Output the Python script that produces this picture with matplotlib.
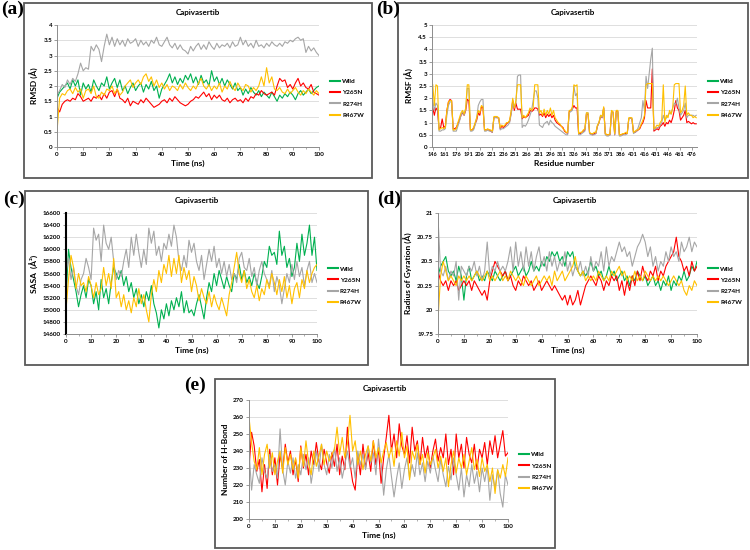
import matplotlib.pyplot as plt
import numpy as np
from matplotlib.lines import Line2D
from matplotlib.patches import Rectangle

plt.rcParams["font.family"] = ["Lato", "DejaVu Sans"]
plt.rcParams["font.weight"] = "bold"

W, H = 750, 550

series_names = ["Wild", "Y265N", "R274H", "R467W"]
series_colors = ["#00B050", "#FF0000", "#A6A6A6", "#FFC000"]

time_ns = np.arange(0, 101)
residues = np.arange(146, 483, 2)
residue_ticks = np.arange(146, 477, 15)

# (a) RMSD
rmsd_wild = [
    1.6, 1.8, 1.9, 2.0, 2.1, 1.9, 2.2, 2.0, 2.2, 1.7,
    2.1, 1.9, 2.05, 1.8, 2.2, 2.0, 1.85, 2.1, 2.0, 2.3,
    1.9, 2.1, 2.25, 1.95, 2.2, 1.85, 2.0, 1.75, 1.95, 2.1,
    1.85, 2.0, 2.1, 1.8, 2.05, 1.9, 2.15, 1.85, 2.0, 1.6,
    1.9, 2.05, 2.2, 2.4, 2.1, 2.3, 2.05, 2.25, 2.1, 2.35,
    2.2, 2.4, 2.1, 2.3, 2.05, 2.35, 2.1, 2.2, 2.0, 2.5,
    2.15, 2.3, 2.05, 2.25, 2.0, 2.2, 2.05, 1.9, 2.1, 1.85,
    1.95, 1.7, 1.9, 1.75, 1.95, 1.8, 1.7, 1.85, 1.65, 1.8,
    1.7, 1.6, 1.8, 1.65, 1.5, 1.7, 1.6, 1.75, 1.65, 1.8,
    1.7, 1.55, 1.75, 1.85, 1.7, 1.8, 1.9, 1.75, 1.85, 1.95,
    2.0,
]
rmsd_y265n = [
    1.3, 1.15, 1.4, 1.5, 1.55, 1.5, 1.6, 1.55, 1.75, 1.65,
    1.5, 1.55, 1.6, 1.5, 1.65, 1.6, 1.7, 1.55, 1.75, 1.6,
    1.8, 1.85, 1.65, 1.9, 1.6, 1.55, 1.45, 1.6, 1.35, 1.5,
    1.45, 1.4, 1.55, 1.45, 1.6, 1.5, 1.4, 1.3, 1.35, 1.4,
    1.5, 1.55, 1.45, 1.6, 1.5, 1.65, 1.55, 1.45, 1.4, 1.35,
    1.4, 1.5, 1.55, 1.65, 1.6, 1.7, 1.8, 1.65, 1.75, 1.55,
    1.7, 1.6, 1.7, 1.55, 1.5, 1.6, 1.45, 1.55, 1.6, 1.5,
    1.55, 1.45, 1.6, 1.5, 1.65, 1.6, 1.75, 1.7, 1.85, 1.75,
    1.7, 1.75, 1.8, 1.7, 2.0, 2.25, 2.15, 2.2, 1.95, 2.05,
    1.9, 2.1, 2.25, 2.0, 2.1, 1.95, 1.9, 2.05, 1.8, 1.75,
    1.7,
]
rmsd_r274h = [
    1.7, 1.85, 2.05, 1.95, 2.2, 2.05, 2.25, 2.15, 2.4, 2.75,
    2.5, 2.6, 2.55, 3.3, 3.15, 3.35, 3.2, 2.8, 3.3, 3.7,
    3.35, 3.6, 3.3, 3.55, 3.35, 3.5, 3.3, 3.55, 3.4, 3.45,
    3.55, 3.3, 3.5, 3.35, 3.45, 3.3, 3.5, 3.4, 3.6, 3.35,
    3.3, 3.45, 3.6, 3.35, 3.25, 3.4, 3.2, 3.35, 3.2, 3.15,
    3.05, 3.3, 3.15, 3.3, 3.4, 3.2, 3.35, 3.2, 3.45, 3.3,
    3.2, 3.4, 3.25, 3.35, 3.3, 3.4, 3.25, 3.45, 3.3, 3.35,
    3.6, 3.35, 3.5, 3.3, 3.4, 3.25, 3.5, 3.3, 3.35, 3.25,
    3.4, 3.3, 3.45, 3.35, 3.3, 3.4, 3.3, 3.45, 3.4, 3.5,
    3.45, 3.55, 3.6, 3.5, 3.55, 3.1, 3.3, 3.15, 3.25, 3.1,
    3.0,
]
rmsd_r467w = [
    0.5, 1.6, 1.75, 1.7, 1.85, 1.9, 1.75, 1.95, 1.8, 1.9,
    1.6, 1.85, 1.9, 1.75, 2.0, 1.65, 1.6, 1.8, 1.7, 1.9,
    1.85, 2.0, 1.75, 1.9, 1.7, 1.8, 2.0, 2.1, 2.2, 1.95,
    2.1, 2.2, 2.05, 2.3, 2.4, 2.15, 2.3, 2.0, 2.2, 1.95,
    2.1, 1.9, 2.05, 1.85, 2.0, 1.95, 1.85, 2.05, 1.9, 2.1,
    1.95, 1.85, 2.0, 1.9, 2.1, 2.25, 2.0, 1.9, 2.05, 1.85,
    2.0, 1.9, 2.1, 1.8, 2.0, 1.9, 2.15, 1.95, 1.85, 2.1,
    1.95, 1.85, 2.05, 2.0, 1.8, 1.95, 1.85, 2.0, 2.3, 2.0,
    2.6, 2.1, 2.3, 1.9, 1.85, 1.95, 1.8, 1.75, 1.9, 1.75,
    1.85, 1.95, 1.8, 1.7, 1.85, 1.75, 1.9, 1.8, 1.7, 1.85,
    1.75,
]

# (b) RMSF, every second residue from 146 to 482 (Wild hidden under the others)
rmsf_y265n = [
    1.6, 1.3, 1.6, 1.5, 0.75, 0.8, 1.15, 0.8, 0.85, 1.5,
    1.85, 1.95, 1.9, 0.75, 0.75, 0.8, 0.95, 1.1, 1.3, 1.4,
    1.3, 1.5, 1.95, 1.9, 0.7, 0.7, 0.75, 0.95, 1.1, 1.4,
    1.3, 1.65, 1.6, 0.7, 0.7, 0.7, 0.7, 0.65, 0.6, 1.2,
    1.25, 1.2, 1.2, 0.75, 0.85, 0.8, 0.85, 0.95, 1.0, 1.05,
    1.4, 1.9, 1.5, 1.8, 1.55, 1.55, 1.55, 1.15, 1.25, 1.2,
    1.25, 1.3, 1.5, 1.45, 1.5, 1.6, 1.6, 1.55, 1.3, 1.35,
    1.25, 1.4, 1.2, 1.35, 1.25, 1.35, 1.2, 1.3, 1.1, 1.0,
    0.95, 0.9, 0.85, 0.8, 0.65, 0.6, 0.55, 1.45, 1.5, 1.55,
    1.7, 1.6, 1.6, 0.55, 0.55, 0.6, 0.65, 0.7, 1.35, 1.35,
    0.55, 0.55, 0.5, 0.55, 0.55, 0.85, 1.0, 1.25, 1.2, 1.6,
    0.55, 0.5, 0.5, 0.5, 1.45, 1.4, 0.5, 1.45, 1.45, 0.5,
    0.5, 0.5, 0.55, 0.55, 0.55, 1.15, 1.2, 1.15, 0.6, 0.6,
    0.65, 0.7, 0.75, 0.9, 1.0, 1.2, 1.9, 1.6, 1.6, 1.6,
    3.2, 0.65, 0.7, 0.75, 0.7, 0.85, 0.9, 1.0, 0.85, 1.0,
    0.95, 1.1, 1.0, 1.2, 1.5, 1.9, 1.6, 1.5, 1.1, 1.2,
    1.3, 1.5, 1.0, 1.05, 1.0, 0.95, 1.0, 0.95, 0.95,
]
rmsf_r274h = [
    1.9, 1.5, 1.8, 1.7, 0.65, 0.65, 0.7, 0.7, 0.75, 1.3,
    1.7, 1.85, 1.85, 0.65, 0.65, 0.65, 0.85, 1.05, 1.3, 1.45,
    1.3, 1.55, 2.4, 2.4, 0.65, 0.65, 0.7, 0.9, 1.2, 1.7,
    1.85, 1.95, 1.95, 0.65, 0.65, 0.7, 0.65, 0.65, 0.6, 1.2,
    1.2, 1.2, 1.2, 0.7, 0.75, 0.75, 0.8, 0.85, 0.9, 1.0,
    1.35, 1.8, 1.6, 1.8, 2.9, 2.95, 2.95, 0.8, 0.9, 0.85,
    0.95, 1.1, 1.3, 1.5, 1.9, 2.3, 2.3, 2.0, 0.9, 0.85,
    0.8, 0.95, 1.0, 1.05, 0.9, 1.1, 1.0, 0.95, 0.85, 0.8,
    0.75, 0.7, 0.65, 0.6, 0.55, 0.5, 0.5, 1.4, 1.45, 1.5,
    2.5, 2.1, 2.2, 0.5, 0.5, 0.55, 0.6, 0.65, 1.4, 1.4,
    0.55, 0.5, 0.5, 0.5, 0.55, 0.85, 1.0, 1.3, 1.2, 1.6,
    0.5, 0.45, 0.45, 0.5, 1.45, 1.4, 0.5, 1.4, 1.45, 0.45,
    0.45, 0.5, 0.5, 0.5, 0.55, 1.15, 1.2, 1.15, 0.55, 0.6,
    0.65, 0.8, 1.0, 1.2, 1.9, 1.5, 2.9, 2.4, 3.0, 3.6,
    4.05, 0.7, 0.75, 0.8, 0.8, 0.9, 1.0, 1.3, 1.1, 1.2,
    1.3, 1.4, 1.35, 1.6, 1.8, 1.75, 2.0, 1.6, 1.3, 1.4,
    1.5, 1.8, 1.2, 1.3, 1.3, 1.3, 1.3, 1.25, 1.3,
]
rmsf_r467w = [
    2.55, 1.7, 2.55, 2.5, 0.7, 0.75, 0.8, 0.75, 0.8, 1.5,
    1.85, 1.9, 1.9, 0.7, 0.7, 0.75, 1.0, 1.2, 1.4, 1.5,
    1.35, 1.6, 2.55, 2.55, 0.7, 0.7, 0.8, 1.0, 1.2, 1.5,
    1.4, 1.7, 1.65, 0.7, 0.7, 0.75, 0.7, 0.7, 0.65, 1.25,
    1.25, 1.25, 1.2, 0.8, 0.9, 0.85, 0.9, 1.0, 1.0, 1.1,
    1.5, 2.0, 1.6, 1.9, 2.55, 2.55, 2.55, 1.2, 1.3, 1.2,
    1.3, 1.4, 1.6, 1.5, 1.6, 2.55, 2.55, 2.55, 1.4, 1.5,
    1.3, 1.55, 1.3, 1.5, 1.35, 1.6, 1.3, 1.5, 1.2, 1.1,
    1.0, 0.95, 0.85, 0.75, 0.7, 0.6, 0.6, 1.5, 1.5, 1.65,
    2.55, 2.5, 2.55, 0.55, 0.6, 0.6, 0.7, 0.75, 1.4, 1.4,
    0.6, 0.55, 0.55, 0.6, 0.6, 0.9, 1.0, 1.3, 1.25, 1.65,
    0.55, 0.5, 0.5, 0.55, 1.5, 1.45, 0.55, 1.5, 1.5, 0.5,
    0.5, 0.55, 0.55, 0.6, 0.55, 1.2, 1.2, 1.2, 0.6, 0.65,
    0.7, 0.7, 0.8, 0.95, 1.1, 1.3, 2.55, 2.6, 2.6, 2.6,
    2.6, 0.75, 0.8, 0.9, 0.85, 1.0, 1.1, 2.55, 1.0, 1.3,
    1.2, 1.5, 1.35, 1.6, 2.55, 2.6, 2.6, 2.6, 1.4, 1.5,
    1.7, 2.5, 1.3, 1.4, 1.3, 1.3, 1.2, 1.25, 1.2,
]

# (c) SASA (Y265N hidden under the others)
sasa_wild = [
    15200, 16000, 15700, 15500, 15300, 15050, 15250, 15400, 15200, 15500,
    15400, 15100, 15300, 15000, 15500, 15200, 15350, 15100, 15450, 15700,
    15600, 15500, 15650, 15400, 15550, 15300, 15450, 15200, 15350, 15100,
    15250, 15050, 15300, 15150, 15400, 15100, 14950, 14700, 15000, 14850,
    15100, 14900, 15150, 15000, 15200, 15050, 15300, 14950, 15150, 14950,
    15000, 14900, 15100, 15250, 15050, 14850, 15200, 15450, 15300, 15600,
    15400, 15650, 15500, 15350, 15550, 15400, 15300, 15600, 15500, 15750,
    15500, 15650, 15450, 15550, 15400, 15600, 15450, 15350, 15550, 15800,
    15700, 16050, 15900, 15950, 15750, 16300, 15900, 16050, 15700, 15850,
    15550, 15700, 16100, 15800, 16250, 15900, 16100, 16400, 15900, 16200,
    15650,
]
sasa_r274h = [
    15600, 15850, 15500, 15700, 15400, 15250, 15500, 15600, 15850, 15700,
    15500, 16350, 16150, 16250, 15800, 16400, 16100, 16000, 16200, 15800,
    15500, 15650, 15550, 15800, 16000, 15700, 16200, 15900, 16250, 15950,
    15700, 16000, 15750, 16350, 16100, 16300, 15900, 16050, 15800, 16100,
    16000, 16250, 16050, 16400, 16200, 15800, 15650, 15900, 15700, 16150,
    15950, 16100, 15800, 15650, 15900, 15500, 15750, 16000, 15800, 16050,
    15700, 15850, 15600, 15800, 15550, 15750, 15500, 15600, 15450, 15850,
    15950, 15700, 15650, 15850, 15550, 15700, 15400, 15650, 15800, 15600,
    15500, 15400, 15650, 15300, 15550, 15400, 15100, 15350, 15600, 15450,
    15750, 15500, 15800, 15550, 15700, 15400, 15650, 15800, 15450, 15600,
    15450,
]
sasa_r467w = [
    15000, 15500, 15900, 15700, 15350, 15600, 15400, 15450, 15300, 15550,
    15400, 15200, 15450, 15250, 15350, 15700, 15400, 15600, 15350, 15850,
    15200, 15300, 15050, 15250, 15000, 15150, 14950, 15200, 15050, 15350,
    15100, 15250, 15000, 14800, 15250, 15500, 15300, 15650, 15450, 15750,
    15600, 15900, 15550, 15850, 15600, 15900, 15450, 15700, 15500, 15650,
    15300, 15550, 15400, 15150, 15350, 15200, 15100, 15300, 15050, 15250,
    15100, 15000, 15200, 15050, 14900, 15250, 15450, 15700, 15950, 15600,
    15450, 15650, 15350, 15500, 15300, 15200, 15400, 15150, 15350, 15250,
    15500, 15350, 15600, 15450, 15250, 15500, 15300, 15550, 15200, 15400,
    15100, 15350, 15450, 15200, 15500, 15350, 15650, 15450, 15600, 15700,
    15750,
]

# (d) Radius of gyration
rg_wild = [
    20.35, 20.45, 20.5, 20.55, 20.4, 20.35, 20.4, 20.3, 20.45, 20.35,
    20.1, 20.35, 20.45, 20.3, 20.35, 20.4, 20.3, 20.35, 20.3, 20.4,
    20.35, 20.3, 20.4, 20.35, 20.3, 20.35, 20.4, 20.3, 20.35, 20.4,
    20.45, 20.35, 20.4, 20.45, 20.35, 20.4, 20.5, 20.4, 20.45, 20.4,
    20.5, 20.45, 20.55, 20.5, 20.6, 20.55, 20.6, 20.5, 20.55, 20.45,
    20.6, 20.55, 20.6, 20.45, 20.4, 20.35, 20.4, 20.35, 20.4, 20.5,
    20.4, 20.45, 20.35, 20.4, 20.3, 20.35, 20.45, 20.35, 20.4, 20.3,
    20.35, 20.4, 20.3, 20.35, 20.25, 20.35, 20.3, 20.4, 20.35, 20.3,
    20.35, 20.25, 20.3, 20.35, 20.25, 20.3, 20.2, 20.3, 20.25, 20.35,
    20.2, 20.3, 20.25, 20.35, 20.3, 20.4, 20.3, 20.35, 20.45, 20.4,
    20.5,
]
rg_y265n = [
    20.4, 20.3, 20.25, 20.3, 20.2, 20.3, 20.25, 20.3, 20.2, 20.25,
    20.3, 20.25, 20.3, 20.2, 20.3, 20.25, 20.2, 20.15, 20.2, 20.1,
    20.3, 20.4, 20.5, 20.45, 20.4, 20.35, 20.4, 20.3, 20.35, 20.25,
    20.2, 20.3, 20.25, 20.35, 20.3, 20.25, 20.3, 20.2, 20.25, 20.3,
    20.2, 20.25, 20.3, 20.25, 20.2, 20.25, 20.2, 20.15, 20.1, 20.15,
    20.05, 20.15, 20.05, 20.1, 20.2, 20.05, 20.15, 20.25, 20.3, 20.35,
    20.3, 20.25, 20.35, 20.3, 20.2, 20.3, 20.25, 20.35, 20.3, 20.35,
    20.2, 20.3, 20.15, 20.3, 20.2, 20.35, 20.25, 20.4, 20.3, 20.45,
    20.35, 20.3, 20.4, 20.35, 20.45, 20.3, 20.4, 20.35, 20.45, 20.5,
    20.55, 20.6, 20.75, 20.55, 20.5, 20.4, 20.45, 20.35, 20.5, 20.4,
    20.45,
]
rg_r274h = [
    20.95, 20.4, 20.35, 20.45, 20.3, 20.4, 20.35, 20.5, 20.1, 20.45,
    20.4, 20.35, 20.45, 20.4, 20.5, 20.35, 20.45, 20.3, 20.4, 20.7,
    20.35, 20.45, 20.4, 20.5, 20.4, 20.45, 20.4, 20.5, 20.65, 20.4,
    20.7, 20.45, 20.6, 20.4, 20.65, 20.45, 20.6, 20.4, 20.55, 20.65,
    20.45, 20.55, 20.4, 20.6, 20.45, 20.55, 20.4, 20.5, 20.45, 20.6,
    20.4, 20.5, 20.35, 20.45, 20.4, 20.5, 20.35, 20.45, 20.35, 20.55,
    20.4, 20.5, 20.45, 20.6, 20.4, 20.65, 20.45, 20.55, 20.5, 20.6,
    20.7, 20.6, 20.65, 20.55, 20.6, 20.45, 20.55, 20.65, 20.7, 20.78,
    20.7, 20.55, 20.65, 20.45, 20.55, 20.4, 20.5, 20.45, 20.6, 20.5,
    20.65, 20.55, 20.6, 20.5, 20.7, 20.6, 20.65, 20.75, 20.6, 20.7,
    20.65,
]
rg_r467w = [
    19.9, 20.35, 20.5, 20.4, 20.3, 20.35, 20.3, 20.25, 20.35, 20.3,
    20.35, 20.3, 20.35, 20.3, 20.35, 20.4, 20.35, 20.3, 20.35, 20.4,
    20.3, 20.35, 20.3, 20.35, 20.4, 20.3, 20.35, 20.3, 20.4, 20.35,
    20.3, 20.35, 20.3, 20.25, 20.35, 20.3, 20.25, 20.3, 20.35, 20.25,
    20.3, 20.35, 20.3, 20.35, 20.25, 20.4, 20.3, 20.35, 20.4, 20.3,
    20.35, 20.4, 20.45, 20.55, 20.4, 20.35, 20.4, 20.3, 20.35, 20.3,
    20.35, 20.3, 20.4, 20.35, 20.3, 20.35, 20.3, 20.4, 20.35, 20.4,
    20.45, 20.35, 20.4, 20.3, 20.35, 20.3, 20.4, 20.3, 20.35, 20.3,
    20.4, 20.35, 20.3, 20.35, 20.3, 20.35, 20.3, 20.35, 20.3, 20.25,
    20.3, 20.35, 20.3, 20.25, 20.3, 20.2, 20.15, 20.25, 20.2, 20.3,
    20.25,
]

# (e) Number of H-bonds (Wild hidden under the others)
hb_y265n = [
    230, 251, 243, 228, 235, 216, 232, 218, 241, 226,
    236, 220, 238, 229, 244, 233, 240, 226, 235, 222,
    243, 230, 238, 226, 240, 232, 245, 234, 229, 241,
    233, 227, 239, 231, 244, 226, 237, 229, 254, 233,
    222, 217, 238, 226, 244, 230, 239, 228, 246, 232,
    241, 221, 236, 248, 261, 240, 250, 236, 256, 243,
    238, 249, 233, 254, 240, 246, 232, 248, 236, 243,
    230, 240, 247, 234, 242, 236, 250, 232, 241, 226,
    250, 236, 244, 230, 248, 238, 233, 244, 229, 241,
    236, 245, 232, 246, 238, 249, 236, 244, 252, 237,
    239,
]
hb_r274h = [
    240, 217, 232, 226, 221, 236, 228, 224, 238, 228,
    232, 224, 253, 229, 220, 234, 227, 236, 224, 232,
    226, 238, 229, 236, 221, 231, 240, 228, 244, 232,
    226, 238, 230, 242, 228, 236, 224, 232, 240, 230,
    236, 224, 240, 232, 238, 229, 243, 233, 239, 226,
    247, 233, 214, 229, 238, 225, 213, 224, 233, 218,
    229, 236, 224, 232, 225, 239, 226, 233, 222, 234,
    227, 237, 229, 222, 235, 226, 219, 231, 223, 236,
    226, 217, 230, 213, 226, 219, 232, 221, 228, 216,
    230, 222, 231, 211, 226, 218, 229, 215, 207, 226,
    220,
]
hb_r467w = [
    260, 245, 234, 229, 242, 226, 238, 244, 230, 239,
    226, 234, 240, 227, 242, 232, 238, 229, 236, 224,
    242, 231, 246, 233, 226, 240, 231, 237, 244, 232,
    240, 234, 238, 241, 254, 238, 248, 236, 244, 261,
    240, 246, 232, 240, 229, 238, 243, 234, 246, 236,
    242, 233, 240, 245, 236, 242, 231, 246, 237, 251,
    236, 243, 223, 240, 235, 244, 232, 238, 227, 239,
    232, 236, 241, 230, 237, 228, 236, 219, 232, 240,
    227, 236, 230, 238, 226, 234, 242, 229, 235, 225,
    236, 228, 232, 222, 230, 215, 229, 224, 232, 225,
    236,
]


def fig_rect(x0, y0, x1, y1):
    return [x0 / W, 1 - y1 / H, (x1 - x0) / W, (y1 - y0) / H]


def add_panel(fig, letter, letter_xy, frame_px, axes_px):
    fx0, fy0, fx1, fy1 = frame_px
    fig.patches.append(Rectangle(
        (fx0 / W, 1 - fy1 / H), (fx1 - fx0) / W, (fy1 - fy0) / H,
        transform=fig.transFigure, fill=False, edgecolor="#595959", lw=1.3,
    ))
    fig.text(letter_xy[0] / W, 1 - letter_xy[1] / H, letter, fontsize=14,
             fontweight="bold", family="Liberation Serif", ha="left", va="top")
    fig.text((fx0 + fx1) / 2 / W, 1 - (fy0 + 10) / H, "Capivasertib",
             fontsize=5.8, fontweight="bold", ha="center", va="center")
    ax = fig.add_axes(fig_rect(*axes_px))
    return ax


def style_axes(ax, ylim, yticks, ylabel, xlabel):
    ax.set_ylim(*ylim)
    ax.set_yticks(yticks)
    ax.yaxis.grid(True, color="#D9D9D9", lw=0.6)
    ax.set_axisbelow(True)
    for s in ["top", "right"]:
        ax.spines[s].set_visible(False)
    ax.spines["left"].set_color("#8C8C8C")
    ax.spines["bottom"].set_color("#8C8C8C")
    ax.spines["left"].set_linewidth(0.7)
    ax.spines["bottom"].set_linewidth(0.7)
    ax.tick_params(labelsize=4.5, length=2, width=0.6, color="#8C8C8C", pad=1.5)
    ax.set_ylabel(ylabel, fontsize=6, fontweight="bold", labelpad=3)
    ax.set_xlabel(xlabel, fontsize=6, fontweight="bold", labelpad=2)
    handles = [Line2D([], [], color=c, lw=1.5) for c in series_colors]
    ax.legend(handles, series_names, loc="center left", bbox_to_anchor=(1.02, 0.4),
              frameon=False, fontsize=4.6, handlelength=1.6, handletextpad=0.3,
              labelspacing=0.9)


def time_axis(ax):
    ax.set_xlim(0, 100)
    ax.set_xticks(np.arange(0, 101, 10))
    ax.set_xticks(np.arange(0, 101, 5), minor=True)
    ax.tick_params(axis="x", which="minor", length=1.5, width=0.5, color="#8C8C8C")


fig = plt.figure(figsize=(W / 100, H / 100), dpi=100)
lw = 0.8

# (a)
ax = add_panel(fig, "(a)", (1, 1), (24, 3, 372, 178), (57, 25, 319, 147))
for vals, c in zip([rmsd_wild, rmsd_y265n, rmsd_r274h, rmsd_r467w], series_colors):
    ax.plot(time_ns, vals, color=c, lw=lw)
time_axis(ax)
style_axes(ax, (0, 4), np.arange(0, 4.01, 0.5), "RMSD (Å)", "Time (ns)")
ax.set_yticklabels(["0", "0.5", "1", "1.5", "2", "2.5", "3", "3.5", "4"])

# (b)
ax = add_panel(fig, "(b)", (376, 1), (398, 3, 748, 178), (432, 25, 697, 147))
for vals, c in zip([rmsf_y265n, rmsf_r274h, rmsf_r467w], series_colors[1:]):
    ax.plot(residues, vals, color=c, lw=lw)
ax.set_xlim(145, 483)
ax.set_xticks(residue_ticks)
style_axes(ax, (0, 5), np.arange(0, 5.01, 0.5), "RMSF (Å)", "Residue number")
ax.set_yticklabels(["0", "0.5", "1", "1.5", "2", "2.5", "3", "3.5", "4", "4.5", "5"])
ax.tick_params(axis="x", labelsize=4.0)

# (c)
ax = add_panel(fig, "(c)", (3, 191), (25, 191, 368, 365), (66, 213, 317, 334))
for vals, c in zip([sasa_wild, sasa_r274h, sasa_r467w], [series_colors[0]] + series_colors[2:]):
    ax.plot(time_ns, vals, color=c, lw=lw)
time_axis(ax)
style_axes(ax, (14600, 16600), np.arange(14600, 16601, 200), "SASA  (Å²)", "Time (ns)")
ax.spines["left"].set_color("black")
ax.spines["left"].set_linewidth(1.5)

# (d)
ax = add_panel(fig, "(d)", (377, 191), (401, 191, 748, 365), (438, 213, 697, 334))
for vals, c in zip([rg_wild, rg_y265n, rg_r274h, rg_r467w], series_colors):
    ax.plot(time_ns, vals, color=c, lw=lw)
time_axis(ax)
style_axes(ax, (19.75, 21), [19.75, 20, 20.25, 20.5, 20.75, 21],
           "Radius of Gyration (Å)", "Time (ns)")
ax.set_yticklabels(["19.75", "20", "20.25", "20.5", "20.75", "21"])

# (e)
ax = add_panel(fig, "(e)", (184, 377), (215, 379, 555, 548), (249, 400, 508, 519))
for vals, c in zip([hb_y265n, hb_r274h, hb_r467w], series_colors[1:]):
    ax.plot(time_ns, vals, color=c, lw=lw)
time_axis(ax)
style_axes(ax, (200, 270), np.arange(200, 271, 10), "Number of H-Bond", "Time (ns)")

fig.savefig("out.png", dpi=100, facecolor="white")
